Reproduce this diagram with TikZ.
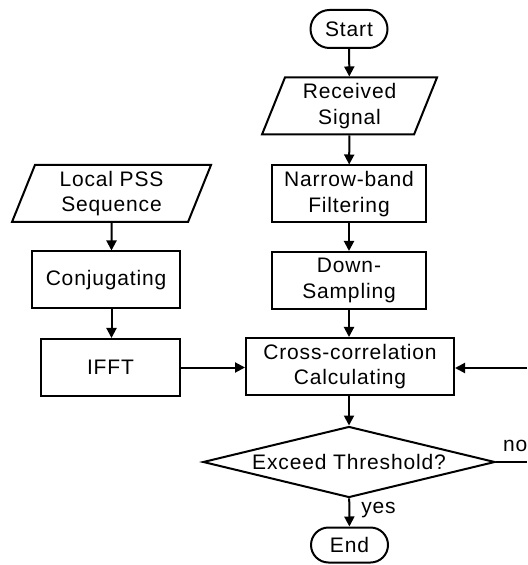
\documentclass[tikz,border=0pt]{standalone}
\usepackage{fontspec}
\setmainfont{Liberation Sans}[LetterSpace=4]
\usetikzlibrary{arrows.meta, positioning, shapes.geometric, shapes.misc}

\begin{document}
\begin{tikzpicture}[x=0.5pt, y=-0.5pt,
    every node/.style={font=\fontsize{10.5}{12.75}\selectfont, align=center, inner sep=0pt},
    block/.style={draw, line width=1pt},
    terminal/.style={block, rounded rectangle, minimum width=38.5pt, minimum height=19pt},
    io/.style={block, trapezium, trapezium left angle=63, trapezium right angle=117,
        trapezium stretches body, minimum height=28.5pt},
    process/.style={block, rectangle, minimum height=28.5pt},
    decision/.style={block, diamond, aspect=4.1, minimum width=146pt, minimum height=35.5pt},
    flow/.style={-{Triangle[length=5pt,width=5pt]}, line width=1pt}]
        % PSS detection flow chart
        \useasboundingbox (0,0) rectangle (527,565);
        \node[terminal] (start) at (349,29) {Start};
        \node[io, minimum width=87.5pt] (rcv) at (349.5,106) {Received\\Signal};
        \node[process, minimum width=77pt] (nbf) at (349,194) {Narrow-band\\Filtering};
        \node[process, minimum width=77pt] (ds) at (349,280.5) {Down-\\Sampling};
        \node[process, minimum width=104pt] (xcorr) at (350,366.5) {Cross-correlation\\Calculating};
        \node[decision] (thr) at (349,462) {Exceed Threshold?};
        \node[terminal, minimum height=17.5pt] (stop) at (349.5,545) {End};
        \node[io, minimum width=99.5pt] (pss) at (111.5,193.5) {Local PSS\\Sequence};
        \node[process, minimum width=74pt] (conj) at (106,280) {Conjugating};
        \node[process, minimum width=69.5pt] (ifft) at (110.5,367.5) {IFFT};
        \coordinate (noend) at (527,462);
        \coordinate (back) at (527,368);

        \draw[flow] (start) -- (rcv);
        \draw[flow] (rcv) -- (nbf);
        \draw[flow] (nbf) -- (ds);
        \draw[flow] (ds) -- (ds |- xcorr.north);
        \draw[flow] (xcorr.south -| ds) -- (thr);
        \draw[flow] (thr) -- node[right=5.5pt, pos=0.4] {yes} (stop);
        \draw[line width=1pt] (thr.east) -- node[above=4.5pt, pos=0.62] {no} (noend);
        \draw[flow] (back) -- (back -| xcorr.east);
        \draw[flow] (pss) -- (pss |- conj.north);
        \draw[flow] (conj.south -| pss) -- (pss |- ifft.north);
        \draw[flow] (ifft.east) -- (ifft.east -| xcorr.west);
    \end{tikzpicture}
\end{document}
